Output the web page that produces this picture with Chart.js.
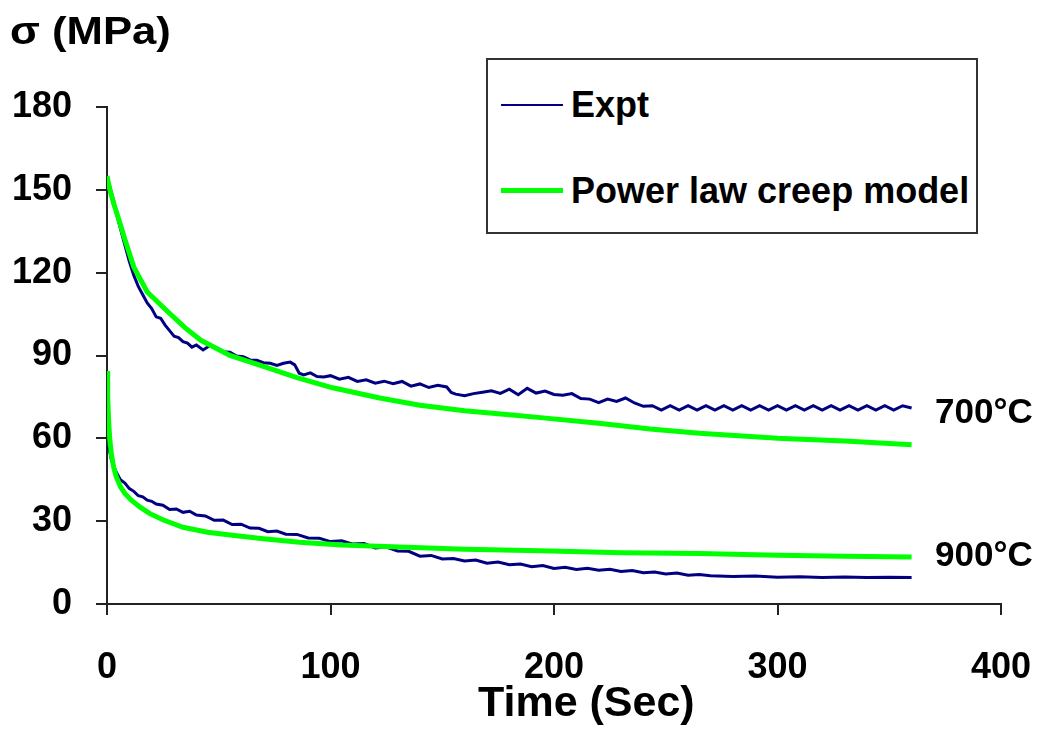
<!DOCTYPE html>
<html>
<head>
<meta charset="utf-8">
<script src="https://cdn.jsdelivr.net/npm/chart.js@4"></script>
<style>
  html, body { margin: 0; padding: 0; background: #fff; }
  #wrap { position: relative; width: 1038px; height: 731px; font-family: "Liberation Sans", Arial, sans-serif; font-weight: bold; color: #000; }
  canvas { position: absolute; left: 0; top: 0; }
  .txt { position: absolute; line-height: 1; white-space: nowrap; transform-origin: 0 0; }
  #legend { position: absolute; left: 486px; top: 58px; width: 488px; height: 172px; border: 2px solid #333; background: #fff; }
  .lg-line { position: absolute; left: 13px; width: 62px; }
  .lg-text { position: absolute; left: 83px; font-size: 36px; line-height: 1; }
</style>
</head>
<body>
<div id="wrap">
  <canvas id="chart" width="1038" height="731"></canvas>
  <div class="txt" style="left:10px; top:11px; font-size:39px; transform:scaleX(1.12);">σ (MPa)</div>
  <div class="txt" style="left:478px; top:680px; font-size:43px;">Time (Sec)</div>
  <div class="txt" style="left:935px; top:393px; font-size:35px;">700°C</div>
  <div class="txt" style="left:935px; top:536px; font-size:35px;">900°C</div>
  <div id="legend">
    <div class="lg-line" style="top:44px; height:2px; background:#000080;"></div>
    <div class="lg-text" style="top:27px;">Expt</div>
    <div class="lg-line" style="top:128px; height:5px; background:#00ff00;"></div>
    <div class="lg-text" style="top:113px;">Power law creep model</div>
  </div>
</div>
<script>
// axis ticks
const xTicks = [0, 100, 200, 300, 400];
const yTicks = [0, 30, 60, 90, 120, 150, 180];

// 700°C experiment (time s, stress MPa)
const expt700T = [0, 1, 2, 3, 4, 5, 6, 8, 10, 12, 14, 16, 18, 20, 22, 24, 26, 28, 30, 32, 34, 36, 38, 40,
  43, 46, 49, 52, 55, 58, 61, 64, 67, 70, 73, 76, 79, 82, 84, 86, 88, 91, 94, 97, 100, 104, 108, 112,
  116, 120, 124, 128, 132, 136, 140, 144, 148, 152, 154, 156, 160, 164, 168, 172, 176, 180, 184, 188,
  192, 196, 200, 204, 208, 212, 216, 220, 224, 228, 232, 236, 240, 244, 248, 252, 256, 260, 264, 268,
  272, 276, 280, 284, 288, 292, 296, 300, 304, 308, 312, 316, 320, 324, 328, 332, 336, 340, 344, 348,
  352, 356, 360];
const expt700S = [150, 152, 149, 146, 142, 139, 136, 130, 124, 119, 115, 112, 109, 107, 104, 103.5, 101, 99, 97, 96.5, 95, 94.5, 93, 93.8,
  92, 93.6, 92.8, 91.4, 91.2, 89.8, 89.6, 88.4, 88.3, 87.4, 87.2, 86.4, 87.2, 87.6, 86.6, 83.6, 83, 83.7, 82.4, 82.2, 82.7, 81.4, 82.1, 80.6,
  81.2, 80, 80.7, 79.8, 80.6, 78.9, 79.7, 78.4, 79.2, 78.6, 76.6, 76, 75.4, 76.2, 76.7, 77.2, 76.3, 77.8, 75.8, 78.1, 76.4,
  77.1, 75.9, 75.6, 76.2, 74.4, 74.2, 72.9, 74.2, 73.4, 74.6, 72.8, 71.6, 71.8, 70.2, 71.8, 70.2, 71.8, 70.2, 71.8, 70.2,
  71.8, 70.2, 71.8, 70.2, 71.8, 70.2, 71.8, 70.2, 71.8, 70.2, 71.8, 70.2, 71.8, 70.2, 71.8, 70.2, 71.8, 70.2, 71.8,
  70.2, 71.8, 71];

// 700°C power law creep model
const model700T = [0, 1, 2, 3, 5, 8, 12, 18, 27, 35, 42, 55, 72, 85, 101, 122, 140, 160, 180, 194, 220, 243, 265, 300, 330, 360];
const model700S = [155, 151, 148, 145, 140, 132, 122, 113, 106, 100, 95.5, 90, 85.5, 82, 78.3, 74.6, 72, 70, 68.5, 67.5, 65.5, 63.4, 61.8, 60, 59, 57.7];

// 900°C experiment
const expt900T = [0, 1, 2, 3, 4, 5, 6, 8, 10, 12, 14, 16, 18, 20, 22, 25, 28, 31, 34, 37, 40, 44, 48, 52, 56, 60, 64, 68,
  72, 76, 80, 85, 90, 95, 100, 105, 110, 115, 120, 125, 130, 135, 140, 145, 150, 155, 160, 165, 170, 175, 180, 185,
  190, 195, 200, 205, 210, 215, 220, 225, 230, 235, 240, 245, 250, 255, 260, 265, 270, 280, 290, 300, 310, 320, 330,
  340, 350, 360];
const expt900S = [57, 56, 52, 50, 48, 46.5, 45, 43.8, 41.8, 40.8, 39.2, 38.8, 37.6, 37.2, 36.2, 35.8, 34.2, 34.4, 33.2, 33.6, 32.2, 31.9, 30.3, 30.4, 28.8, 28.9, 27.5, 27.4,
  26.2, 26.4, 25.3, 25.2, 23.9, 23.8, 22.6, 22.9, 21.7, 21.9, 20.3, 20.6, 19.2, 19.1, 17.3, 17.6, 16.3, 16.5, 15.6, 15.9, 14.8, 15.2, 14.2, 14.5,
  13.5, 13.9, 12.9, 13.3, 12.5, 12.9, 12.2, 12.6, 11.8, 12.1, 11.3, 11.6, 10.9, 11.2, 10.4, 10.7, 10.2, 10, 10.1, 9.7, 9.9, 9.6, 9.8,
  9.6, 9.7, 9.6];

// 900°C power law creep model
const model900T = [0, 0.3, 0.7, 1.2, 2, 3, 4, 6, 8, 11, 15, 19, 25, 34, 45, 56, 70, 86, 105, 131, 160, 194, 230, 265, 300, 330, 360];
const model900S = [84.4, 75, 67, 60, 54, 49.5, 46.5, 42.5, 40, 37.5, 35, 32.8, 30.5, 27.8, 26, 24.9, 23.6, 22.4, 21.4, 20.6, 19.8, 19.3, 18.6, 18.3, 17.7, 17.3, 17];

const navy = '#000080';
const green = '#00ff00';

function pts(ts, ss) {
  return ts.map((t, i) => ({ x: t, y: ss[i] }));
}

function lineSet(label, ts, ss, color, width) {
  return {
    label,
    data: pts(ts, ss),
    borderColor: color,
    backgroundColor: color,
    borderWidth: width,
    pointRadius: 0,
    tension: 0,
    fill: false
  };
}

const tickFont = { family: '"Liberation Sans", Arial, sans-serif', size: 36, weight: 'bold' };

new Chart(document.getElementById('chart').getContext('2d'), {
  type: 'line',
  data: {
    datasets: [
      lineSet('Power law creep model', model700T, model700S, green, 5),
      lineSet('Power law creep model 900', model900T, model900S, green, 5),
      lineSet('Expt', expt700T, expt700S, navy, 3),
      lineSet('Expt 900', expt900T, expt900S, navy, 3)
    ]
  },
  options: {
    responsive: false,
    animation: false,
    layout: { padding: { top: 107, right: 37, left: 0, bottom: 0 } },
    plugins: { legend: { display: false }, tooltip: { enabled: false } },
    scales: {
      x: {
        type: 'linear',
        min: 0, max: 400,
        afterBuildTicks: s => { s.ticks = xTicks.map(v => ({ value: v })); },
        afterFit: s => { s.height = 127; s.paddingLeft = 0; s.paddingRight = 0; },
        ticks: { color: '#000', font: tickFont, padding: 31, maxRotation: 0 },
        grid: { drawOnChartArea: false, drawTicks: true, tickLength: 11, color: '#222', lineWidth: 2 },
        border: { display: true, color: '#222', width: 2 }
      },
      y: {
        min: 0, max: 180,
        afterBuildTicks: s => { s.ticks = yTicks.map(v => ({ value: v })); },
        afterFit: s => { s.width = 107; },
        ticks: { color: '#000', font: tickFont, padding: 24 },
        grid: { drawOnChartArea: false, drawTicks: true, tickLength: 11, color: '#222', lineWidth: 2 },
        border: { display: true, color: '#222', width: 2 }
      }
    }
  }
});
</script>
</body>
</html>
